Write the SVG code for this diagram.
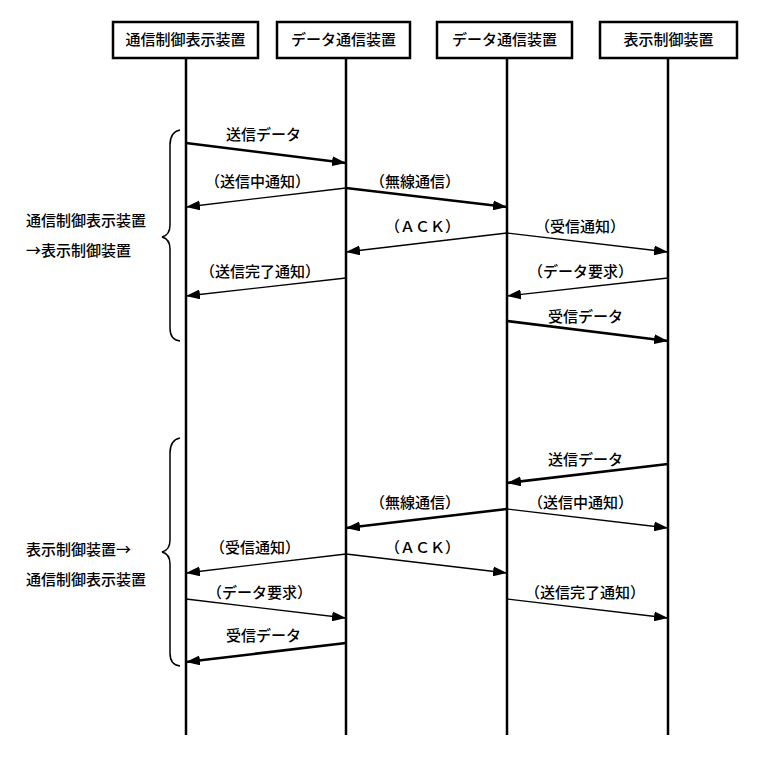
<svg xmlns="http://www.w3.org/2000/svg" width="757" height="762" viewBox="0 0 757 762">
<style>
text{font-family:"Noto Sans CJK JP","Noto Sans CJK SC",sans-serif;font-size:15px;fill:#000;font-weight:500}
.box{fill:#fff;stroke:#000;stroke-width:2.5}
.life{stroke:#000;stroke-width:2.5}
.a{stroke:#000;stroke-width:1.3;fill:none;marker-end:url(#ah)}
.b{stroke:#000;stroke-width:2.6;fill:none;marker-end:url(#ahb)}
.br{stroke:#000;stroke-width:1.5;fill:none}
</style>
<defs>
<marker id="ah" viewBox="0 0 14 10" refX="14" refY="5" markerWidth="14" markerHeight="10" markerUnits="userSpaceOnUse" orient="auto"><path d="M0,0L14,5L0,10z"/></marker>
<marker id="ahb" viewBox="0 0 14 10" refX="14" refY="5" markerWidth="14" markerHeight="10" markerUnits="userSpaceOnUse" orient="auto"><path d="M0,0L14,5L0,10z"/></marker>
</defs>
<rect width="757" height="762" fill="#fff"/>
<g id="n1"><rect class="box" x="113" y="22" width="145" height="36"/><line class="life" x1="186" y1="58" x2="186" y2="735"/><text x="185.5" y="45" text-anchor="middle">通信制御表示装置</text></g>
<g id="n2"><rect class="box" x="277" y="22" width="133" height="36"/><line class="life" x1="346" y1="58" x2="346" y2="735"/><text x="343.5" y="45" text-anchor="middle">データ通信装置</text></g>
<g id="n3"><rect class="box" x="437" y="22" width="135" height="36"/><line class="life" x1="507" y1="58" x2="507" y2="735"/><text x="504.5" y="45" text-anchor="middle">データ通信装置</text></g>
<g id="n4"><rect class="box" x="600" y="22" width="137" height="36"/><line class="life" x1="668" y1="58" x2="668" y2="735"/><text x="668.5" y="45" text-anchor="middle">表示制御装置</text></g>
<g id="braces">
<path class="br" d="M180,130 Q170,132 170,145 L170,225 Q170,235 162,237 Q170,239 170,249 L170,328 Q170,340 180,341"/>
<path class="br" d="M180,438 Q170,440 170,453 L170,540 Q170,550 162,552 Q170,554 170,564 L170,653 Q170,665 180,666"/>
<text x="26" y="226">通信制御表示装置</text>
<text x="26" y="256">→表示制御装置</text>
<text x="26" y="555">表示制御装置→</text>
<text x="26" y="585">通信制御表示装置</text>
</g>
<g id="connectors">
<line class="b" x1="186" y1="143" x2="346" y2="163"/>
<line class="a" x1="346" y1="188" x2="186" y2="207"/>
<line class="b" x1="346" y1="188" x2="507" y2="207"/>
<line class="a" x1="507" y1="233" x2="346" y2="252"/>
<line class="a" x1="507" y1="233" x2="668" y2="252"/>
<line class="a" x1="346" y1="278" x2="186" y2="296"/>
<line class="a" x1="668" y1="278" x2="507" y2="296"/>
<line class="b" x1="507" y1="321" x2="668" y2="341"/>
<line class="b" x1="668" y1="464" x2="507" y2="483"/>
<line class="b" x1="507" y1="509" x2="346" y2="528"/>
<line class="a" x1="507" y1="509" x2="668" y2="528"/>
<line class="a" x1="346" y1="554" x2="186" y2="573"/>
<line class="a" x1="346" y1="554" x2="507" y2="573"/>
<line class="a" x1="186" y1="599" x2="346" y2="618"/>
<line class="a" x1="507" y1="599" x2="668" y2="618"/>
<line class="b" x1="346" y1="643" x2="186" y2="662"/>
<text x="226" y="140">送信データ</text>
<text x="205" y="187">（送信中通知）</text>
<text x="370" y="187">（無線通信）</text>
<text x="385" y="232">（ＡＣＫ）</text>
<text x="535" y="232">（受信通知）</text>
<text x="200" y="277">（送信完了通知）</text>
<text x="528" y="277">（データ要求）</text>
<text x="548" y="322">受信データ</text>
<text x="548" y="465">送信データ</text>
<text x="370" y="508">（無線通信）</text>
<text x="528" y="508">（送信中通知）</text>
<text x="210" y="553">（受信通知）</text>
<text x="385" y="553">（ＡＣＫ）</text>
<text x="207" y="598">（データ要求）</text>
<text x="525" y="598">（送信完了通知）</text>
<text x="226" y="641">受信データ</text>
</g>
</svg>
